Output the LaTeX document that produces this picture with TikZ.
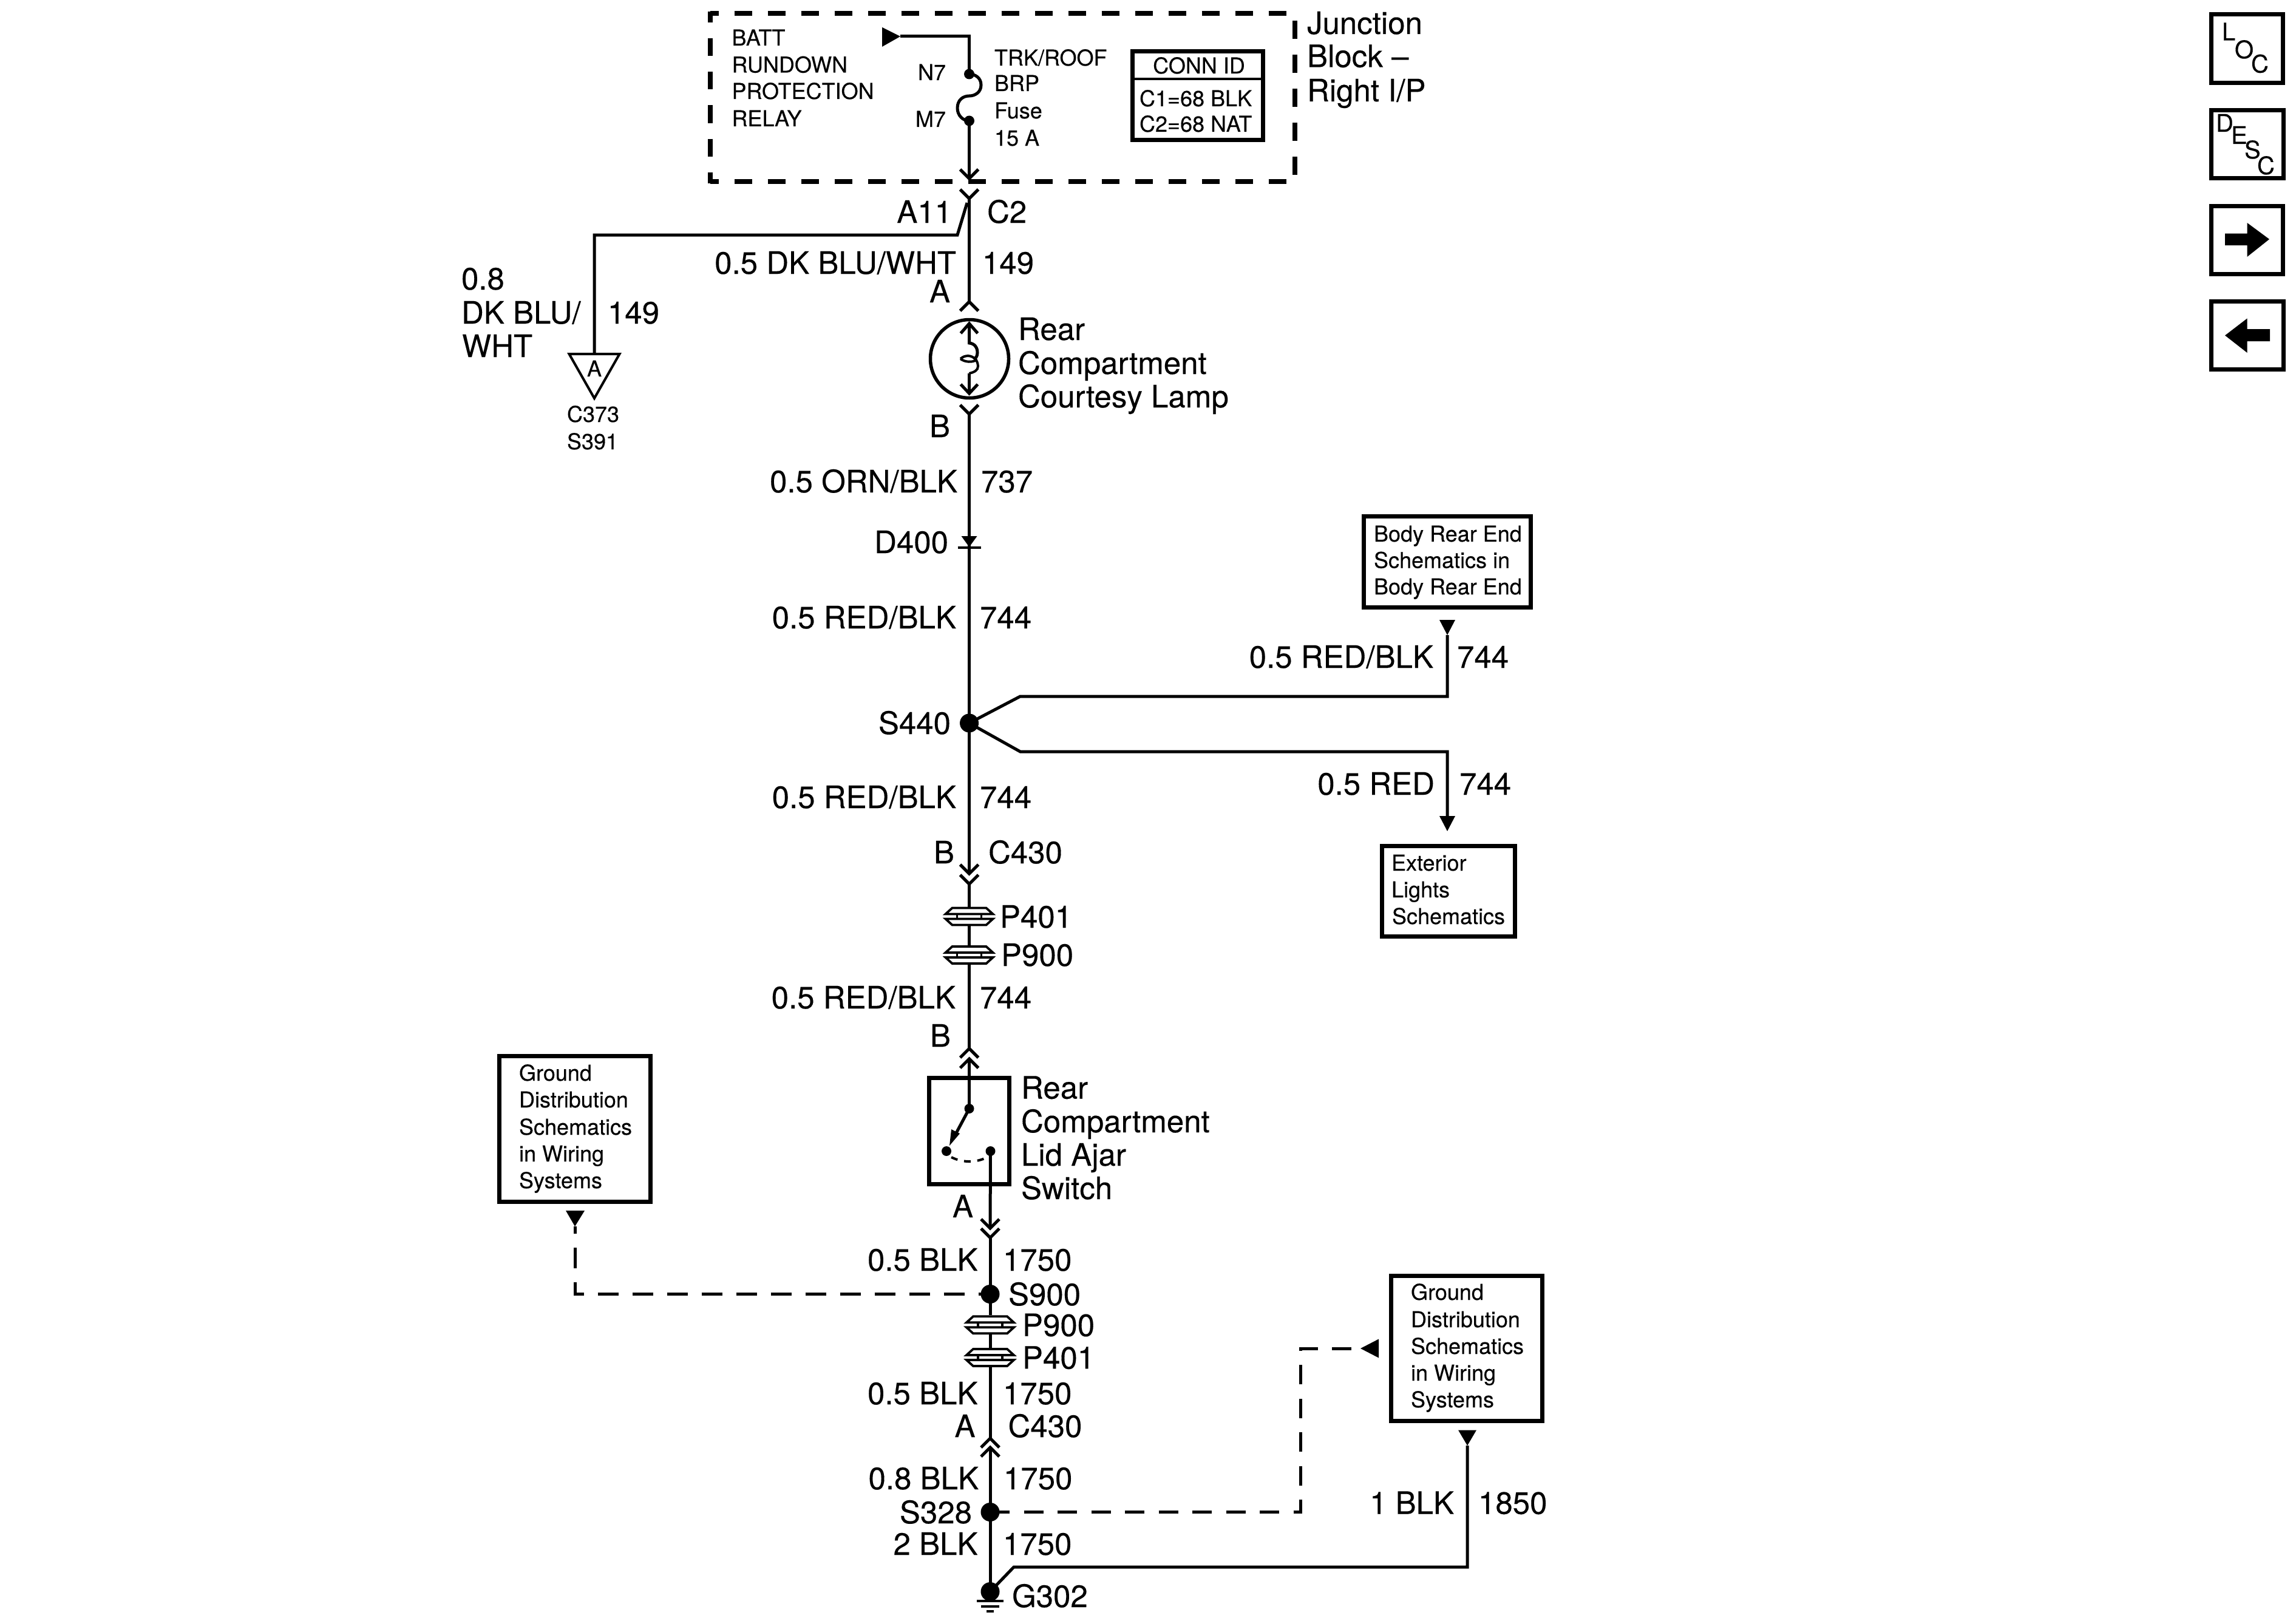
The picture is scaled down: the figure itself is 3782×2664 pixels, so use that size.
\documentclass[tikz,border=0pt]{standalone}
\usepackage{fontspec}
\setmainfont[FakeBold=0.25]{TeX Gyre Heros}
\newcommand{\bigtxt}{\fontsize{10.2}{12}\selectfont}
\newcommand{\smalltxt}{\fontsize{7.2}{9}\selectfont}
\newcommand{\icontxt}{\fontsize{8}{10}\selectfont}
% labels: name, x, y (baseline), text
\newcommand{\LL}[4]{\node[lab,anchor=base west] (#1) at (#2-2,#3) {\bigtxt #4};}
\newcommand{\LR}[4]{\node[lab,anchor=base east] (#1) at (#2+2,#3) {\bigtxt #4};}
\newcommand{\SL}[4]{\node[lab,anchor=base west] (#1) at (#2,#3) {\smalltxt #4};}
\newcommand{\SR}[4]{\node[lab,anchor=base east] (#1) at (#2,#3) {\smalltxt #4};}
% chevrons: x, tip y
\newcommand{\chevD}[2]{\draw[wire] (#1-15,#2-15) -- (#1,#2) -- (#1+15,#2-15);}
\newcommand{\chevU}[2]{\draw[wire] (#1-15,#2+15) -- (#1,#2) -- (#1+15,#2+15);}
% inline pass-through: x, centre y
\newcommand{\inlineconn}[2]{%
  \draw[conn] (#1-39,#2-4) -- (#1-28,#2-14) -- (#1+28,#2-14) -- (#1+39,#2-4) -- cycle;
  \draw[conn] (#1-39,#2+4) -- (#1-28,#2+14) -- (#1+28,#2+14) -- (#1+39,#2+4) -- cycle;
  \draw[conn] (#1-20,#2-4) -- (#1-20,#2+4) (#1+20,#2-4) -- (#1+20,#2+4);}
\begin{document}
\begin{tikzpicture}[x=0.2pt,y=-0.2pt,
  lab/.style={inner sep=0pt,outer sep=0pt,text=black},
  wire/.style={line width=1pt,line cap=butt,line join=miter,draw=black},
  conn/.style={line width=0.75pt,draw=black,line join=miter},
  frame/.style={line width=1.4pt,draw=black,line join=miter},
  dotnode/.style={circle,fill=black,inner sep=0pt,minimum size=#1*0.2pt},
  dashb/.style={line width=1.45pt,draw=black}]
\path[use as bounding box,fill=white] (0,0) rectangle (3782,2664);

% ---- named wire points
\coordinate (mtop) at (1596.5,327);
\node[dotnode=17] (n7) at (1596.5,122) {};
\node[dotnode=17] (m7) at (1596.5,199) {};
\node[dotnode=31] (s440) at (1596.5,1191) {};
\node[dotnode=16] (sw1) at (1596.5,1826) {};
\node[dotnode=16] (sw2) at (1559,1896) {};
\node[dotnode=16] (sw3) at (1631.5,1896) {};
\node[dotnode=31] (s900) at (1631,2131.5) {};
\node[dotnode=31] (s328) at (1631,2490.5) {};
\node[dotnode=31] (g302) at (1631,2621.5) {};

% ---- junction block
\draw[dashb,dash pattern=on 5.9pt off 5.1pt,dash phase=3.1pt] (1170,22) -- (2123,22);
\draw[dashb,dash pattern=on 5.9pt off 5.1pt,dash phase=3.1pt] (1170,299) -- (2123,299);
\draw[dashb,dash pattern=on 5.8pt off 5.2pt,dash phase=2.1pt] (1170,19) -- (1170,302);
\draw[dashb,dash pattern=on 6pt off 5.2pt] (2133,34) -- (2133,288);
\SL{t1}{1205.5}{75}{BATT}
\SL{t2}{1205.5}{119.5}{RUNDOWN}
\SL{t3}{1205.5}{163}{PROTECTION}
\SL{t4}{1205.5}{208}{RELAY}
\SR{tn7}{1558}{132}{N7}
\SR{tm7}{1558}{209}{M7}
\SL{t5}{1638}{108}{TRK/ROOF}
\SL{t6}{1638}{150}{BRP}
\SL{t7}{1638}{195}{Fuse}
\SL{t8}{1638}{240}{15 A}
\draw[frame] (1865,85) rectangle (2080,231);
\draw[line width=0.75pt] (1865,130) -- (2080,130);
\node[lab,anchor=base] (cid) at (1975,121) {\smalltxt CONN ID};
\SL{c1}{1877}{175}{C1=68 BLK}
\SL{c2}{1877}{217}{C2=68 NAT}
\LL{j1}{2155}{56}{Junction}
\LL{j2}{2155}{110.5}{Block –}
\LL{j3}{2155}{167}{Right I/P}

% batt feed and fuse
\coordinate (batt) at (1483,60);
\fill (1453,45) -- (batt) -- (1453,77) -- cycle;
\draw[wire] (batt) -- (1596.5,60) -- (n7.center);
\draw[wire] (n7.center) .. controls (1606,122) and (1616,128) .. (1616,140)
   .. controls (1616,152) and (1606,158) .. (1596.5,158)
   .. controls (1586,158) and (1577,165) .. (1577,178)
   .. controls (1577,190) and (1586,199) .. (m7.center);
\coordinate (jout) at (1596.5,294);
\draw[wire] (m7.center) -- (jout);
\chevD{1596.5}{294}
\chevD{1596.5}{327}

% C2 branch
\coordinate (cA) at (1596.5,497);
\draw[wire] (mtop) -- (cA);
\coordinate (tritop) at (979,583);
\draw[wire] (1593,334) -- (1577,387) -- (979,387) -- (tritop);
\draw[line width=0.8pt,line join=miter] (937.5,583) -- (1020.5,583) -- (979,656) -- cycle;
\node[lab,anchor=base] (tA) at (979,620) {\smalltxt A};
\SL{tc373}{934}{695}{C373}
\SL{ts391}{934}{740}{S391}
\LL{l08a}{762}{477}{0.8}
\LL{l08b}{762}{533}{DK BLU/}
\LL{l08c}{763}{588}{WHT}
\LL{l149b}{1003}{533}{149}
\LR{la11}{1566}{367}{A11}
\LL{lc2}{1628}{367}{C2}
\LR{l05dk}{1573}{451}{0.5 DK BLU/WHT}
\LL{l149}{1620}{451}{149}
\LR{lA}{1563}{498}{A}
\chevU{1596.5}{497}

% lamp
\draw[line width=1.1pt] (1597,591) circle[radius=64.5];
\draw[wire] (1582.5,549) -- (1596.5,533) -- (1610.5,549);
\draw[wire] (1596.5,533) -- (1596.5,565) .. controls (1606,566) and (1610,573) .. (1610,581)
   .. controls (1610,587) and (1607,590) .. (1604,592);
\draw[line width=0.8pt] (1582,591) .. controls (1590,584) and (1600,585) .. (1606,591);
\draw[line width=0.8pt] (1582,591) .. controls (1590,597) and (1602,597) .. (1608,593)
   .. controls (1610,597) and (1611,600) .. (1611,603) .. controls (1611,610) and (1605,613) .. (1596.5,615);
\draw[wire] (1596.5,615) -- (1596.5,648);
\draw[wire] (1582.5,633) -- (1596.5,648) -- (1610.5,633);
\LL{lr1}{1679}{560}{Rear}
\LL{lr2}{1679}{616}{Compartment}
\LL{lr3}{1679}{671}{Courtesy Lamp}
\chevD{1596.5}{682}
\LR{lB}{1563}{720}{B}

% main wire to S440
\draw[wire] (1596.5,682) -- (s440.center);
\LR{l737a}{1575}{811}{0.5 ORN/BLK}
\LL{l737}{1618}{811}{737}
\LR{ld400}{1560}{911}{D400}
\fill (1583.5,883) -- (1609.5,883) -- (1596.5,901) -- cycle;
\draw[line width=0.8pt] (1577.5,902) -- (1615.5,902);
\LR{l744a}{1573}{1035}{0.5 RED/BLK}
\LL{l744}{1616}{1035}{744}
\LR{ls440}{1564}{1209}{S440}

% S440 branches
\coordinate (upt) at (2384,1046);
\coordinate (dnt) at (2384,1369);
\fill (2371,1021) -- (2397,1021) -- (upt) -- cycle;
\draw[wire] (s440.center) -- (1680.5,1147) -- (2384,1147) -- (upt);
\draw[wire] (s440.center) -- (1680.5,1238) -- (2384,1238) -- (2384,1345);
\fill (2371,1344) -- (2397,1344) -- (dnt) -- cycle;
\draw[frame] (2246,850) rectangle (2521,1000);
\SL{b1}{2263}{892}{Body Rear End}
\SL{b2}{2263}{935.5}{Schematics in}
\SL{b3}{2263}{979}{Body Rear End}
\LR{l744b}{2359}{1100}{0.5 RED/BLK}
\LL{l744c}{2402}{1100}{744}
\LR{l744d}{2361}{1309}{0.5 RED}
\LL{l744e}{2406}{1309}{744}
\draw[frame] (2276,1393) rectangle (2495,1542);
\SL{e1}{2292}{1434}{Exterior}
\SL{e2}{2292}{1478}{Lights}
\SL{e3}{2293}{1522}{Schematics}

% down to C430
\draw[wire] (s440.center) -- (1596.5,1439);
\LR{l744f}{1573}{1331}{0.5 RED/BLK}
\LL{l744g}{1616}{1331}{744}
\LR{lB2}{1570}{1422}{B}
\LL{lc430}{1630}{1422}{C430}
\chevD{1596.5}{1439}
\chevD{1596.5}{1456}
\draw[wire] (1596.5,1456) -- (1596.5,1495.5);
\inlineconn{1596.5}{1509.5}
\draw[wire] (1596.5,1523.5) -- (1596.5,1559);
\inlineconn{1596.5}{1573}
\draw[wire] (1596.5,1587) -- (1596.5,1727);
\LL{lp401}{1649}{1528}{P401}
\LL{lp900}{1651}{1591}{P900}
\LR{l744h}{1572}{1661}{0.5 RED/BLK}
\LL{l744i}{1616}{1661}{744}
\LR{lB3}{1564}{1724}{B}
\chevU{1596.5}{1727}
\chevU{1596.5}{1744}

% switch
\draw[frame] (1530,1775) rectangle (1662,1950);
\draw[wire] (1596.5,1744) -- (sw1.center);
\draw[wire] (sw1.center) -- (1572,1872);
\fill (1581,1867) -- (1567,1860) -- (1564,1887) -- cycle;
\draw[line width=0.8pt,dash pattern=on 2.2pt off 2.2pt] (1567,1906) .. controls (1585,1915) and (1605,1915) .. (1622,1908);
\draw[wire] (sw3.center) -- (1631,2023);
\LL{ls1}{1684}{1809.5}{Rear}
\LL{ls2}{1684}{1865}{Compartment}
\LL{ls3}{1684}{1920}{Lid Ajar}
\LL{ls4}{1684}{1975}{Switch}
\LR{lA2}{1601}{2005}{A}
\chevD{1631}{2023}
\chevD{1631}{2038.5}
\draw[wire] (1631,2038.5) -- (s900.center);
\LR{l05b}{1608.5}{2093}{0.5 BLK}
\LL{l1750}{1654}{2093}{1750}
\LL{ls900}{1663}{2150}{S900}
\draw[wire] (s900.center) -- (1631,2166);
\inlineconn{1631}{2182.3}
\draw[wire] (1631,2196) -- (1631,2222);
\inlineconn{1631}{2236}
\draw[wire] (1631,2250) -- (1631,2369);
\LL{lp900b}{1686}{2200.7}{P900}
\LL{lp401b}{1686}{2254.4}{P401}
\LR{l05c}{1608.5}{2313}{0.5 BLK}
\LL{l1750b}{1654}{2313}{1750}
\LR{lA3}{1604.5}{2367}{A}
\LL{lc430b}{1662.5}{2367}{C430}
\chevU{1631}{2369}
\chevU{1631}{2384}
\draw[wire] (1631,2384) -- (s328.center);
\LR{l08d}{1610}{2453}{0.8 BLK}
\LL{l1750c}{1655}{2453}{1750}
\LR{ls328}{1599}{2509}{S328}
\LR{l2}{1608.5}{2561}{2 BLK}
\LL{l1750d}{1654}{2561}{1750}
\draw[wire] (s328.center) -- (g302.center);
\LL{lg302}{1669}{2647}{G302}
% ground
\draw[line width=0.8pt] (1609,2637) -- (1653,2637);
\draw[line width=0.8pt] (1616,2646) -- (1646,2646);
\draw[line width=0.8pt] (1625,2654) -- (1637,2654);

% 1850 wire
\coordinate (gtri) at (2417,2381);
\fill (2402,2355.5) -- (2432,2355.5) -- (gtri) -- cycle;
\draw[wire] (g302.center) -- (1670,2581) -- (2417,2581) -- (gtri);
\LR{l1blk}{2393}{2493.5}{1 BLK}
\LL{l1850}{2437}{2493.5}{1850}

% right ground box
\draw[frame] (2291,2101.5) rectangle (2540,2340.5);
\SL{g1}{2324}{2141}{Ground}
\SL{g2}{2324}{2186}{Distribution}
\SL{g3}{2324}{2230}{Schematics}
\SL{g4}{2324}{2274}{in Wiring}
\SL{g5}{2324}{2318}{Systems}
\coordinate (rtip) at (2241,2221);
\fill (2271,2205.5) -- (rtip) -- (2271,2236.5) -- cycle;
\draw[wire,dash pattern=on 6.4pt off 4.7pt] (s328.center) -- (2142,2490.5) -- (2142,2221) -- (rtip);

% left ground box
\draw[frame] (822,1739.5) rectangle (1071,1979.5);
\SL{h1}{855}{1780}{Ground}
\SL{h2}{855}{1824}{Distribution}
\SL{h3}{855}{1869}{Schematics}
\SL{h4}{855}{1913}{in Wiring}
\SL{h5}{855}{1957}{Systems}
\coordinate (ltip) at (947,2020);
\fill (932,1994) -- (963,1994) -- (ltip) -- cycle;
\draw[wire,dash pattern=on 6.8pt off 4.6pt,dash phase=4.4pt] (ltip) -- (947,2131.5) -- (s900.center);

% side icons
\draw[frame] (3642.5,23.5) rectangle (3760.5,136.5);
\draw[frame] (3642.5,181.5) rectangle (3761.5,293.5);
\draw[frame] (3642.5,339) rectangle (3760.5,451.5);
\draw[frame] (3642.5,496.5) rectangle (3761.5,608);
\node[lab,anchor=base west] (iL) at (3660,66.5) {\icontxt L};
\node[lab,anchor=base west] (iO) at (3681,96) {\icontxt O};
\node[lab,anchor=base west] (iC) at (3708,119.5) {\icontxt C};
\node[lab,anchor=base west] (iD) at (3650,217) {\icontxt D};
\node[lab,anchor=base west] (iE) at (3675,237) {\icontxt E};
\node[lab,anchor=base west] (iS) at (3697,261) {\icontxt S};
\node[lab,anchor=base west] (iC2) at (3718,287) {\icontxt C};
\fill (3665,384.5) -- (3701.5,384.5) -- (3701.5,367) -- (3738,394) -- (3701.5,423) -- (3701.5,404) -- (3665,404) -- cycle;
\fill (3739,542) -- (3701.5,542) -- (3701.5,524.5) -- (3665,552.5) -- (3701.5,581) -- (3701.5,562) -- (3739,562) -- cycle;
\end{tikzpicture}
\end{document}
